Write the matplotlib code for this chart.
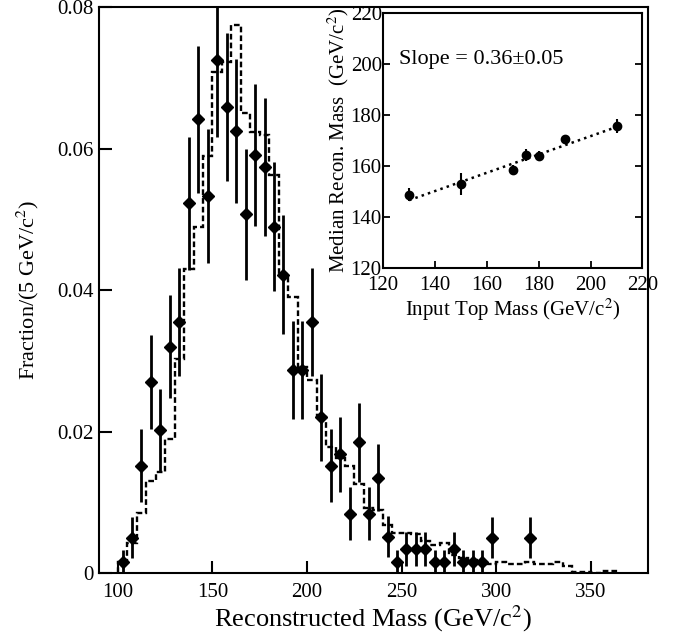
import matplotlib
matplotlib.use("Agg")
import matplotlib.pyplot as plt
import numpy as np

plt.rcParams['font.family'] = ['Liberation Serif', 'DejaVu Serif']
plt.rcParams['mathtext.fontset'] = 'stix'

# data points (bin centres, fraction per 5 GeV, errors)
mass = [102.5, 107.5, 112.5, 117.5, 122.5, 127.5, 132.5, 137.5, 142.5, 147.5,
        152.5, 157.5, 162.5, 167.5, 172.5, 177.5, 182.5, 187.5, 192.5, 197.5,
        202.5, 207.5, 212.5, 217.5, 222.5, 227.5, 232.5, 237.5, 242.5, 247.5,
        252.5, 257.5, 262.5, 267.5, 272.5, 277.5, 282.5, 287.5, 292.5, 297.5,
        317.5]
frac = [0.0016, 0.0050, 0.0152, 0.0270, 0.0202, 0.0320, 0.0355, 0.0523, 0.0642, 0.0533,
        0.0726, 0.0659, 0.0625, 0.0507, 0.0591, 0.0574, 0.0490, 0.0422, 0.0287, 0.0287,
        0.0355, 0.0220, 0.0152, 0.0168, 0.0084, 0.0185, 0.0084, 0.0135, 0.0051, 0.0016,
        0.0034, 0.0034, 0.0034, 0.0016, 0.0016, 0.0034, 0.0016, 0.0016, 0.0016, 0.0050,
        0.0050]
frac_err = [0.0016, 0.0029, 0.0051, 0.0067, 0.0058, 0.0073, 0.0077, 0.0094, 0.0104, 0.0095,
            0.0110, 0.0105, 0.0102, 0.0092, 0.0100, 0.0098, 0.0091, 0.0084, 0.0069, 0.0069,
            0.0077, 0.0061, 0.0051, 0.0053, 0.0038, 0.0056, 0.0038, 0.0048, 0.0029, 0.0016,
            0.0024, 0.0024, 0.0024, 0.0016, 0.0016, 0.0024, 0.0016, 0.0016, 0.0016, 0.0029,
            0.0029]

# Monte Carlo template (dashed histogram), 5 GeV bins starting at 100
hist_start = 100
hist_width = 5
hist_vals = [0.0015, 0.0043, 0.0085, 0.0130, 0.0143, 0.0190, 0.0302, 0.0430, 0.0490, 0.0590,
             0.0708, 0.0723, 0.0775, 0.0651, 0.0623, 0.0620, 0.0563, 0.0423, 0.0390, 0.0292,
             0.0273, 0.0221, 0.0178, 0.0162, 0.0151, 0.0126, 0.0092, 0.0089, 0.0068, 0.0057,
             0.0056, 0.0055, 0.0045, 0.0040, 0.0043, 0.0025, 0.0021, 0.0018, 0.0016, 0.0013,
             0.0015, 0.0013, 0.0012, 0.0015, 0.0012, 0.0013, 0.0015, 0.0010, 0.0002, 0.0002,
             0.0000, 0.0003, 0.0003]

# inset: median reconstructed mass vs input top mass
top_mass = [130, 150, 170, 175, 180, 190, 210]
median_mass = [148.6, 152.8, 158.4, 164.3, 164.0, 170.5, 175.7]
median_err = [2.6, 4.3, 1.8, 2.3, 1.8, 1.8, 2.9]
fit_x = [130, 210]
fit_y = [146.5, 175.3]

fig = plt.figure(figsize=(6.77, 6.37), dpi=100)
ax = fig.add_axes([0.146, 0.1005, 0.811, 0.888])

edges = hist_start + hist_width * np.arange(len(hist_vals) + 1)
ax.stairs(hist_vals, edges, color='black', linewidth=1.7, linestyle=(0, (2.4, 1.3)))
ax.errorbar(mass, frac, yerr=frac_err, fmt='D', color='black', markersize=6.5,
            elinewidth=2.0, capsize=0)

ax.set_xlim(90, 380)
ax.set_ylim(0, 0.08)
ax.set_xticks([100, 150, 200, 250, 300, 350])
ax.set_yticks([0, 0.02, 0.04, 0.06, 0.08])
ax.set_yticklabels(['0', '0.02', '0.04', '0.06', '0.08'])
ax.tick_params(direction='in', length=9, width=1.5, labelsize=15)
ax.tick_params(axis='x', pad=7)
for s in ax.spines.values():
    s.set_linewidth(1.5)
ax.set_xlabel(r'Reconstructed Mass (GeV/c$^{\mathrm{2}}$)', fontsize=19, labelpad=1)
ax.set_ylabel(r'Fraction/(5 GeV/c$^{\mathrm{2}}$)', fontsize=16, labelpad=12)

# inset
ins = fig.add_axes([0.566, 0.58, 0.383, 0.399])
ins.set_facecolor('white')
ins.plot(fit_x, fit_y, linestyle=':', color='black', linewidth=1.8)
ins.errorbar(top_mass, median_mass, yerr=median_err, fmt='o', color='black',
             markersize=6, elinewidth=1.5, capsize=0)
ins.set_xlim(120, 220)
ins.set_ylim(120, 220)
ins.set_xticks([120, 140, 160, 180, 200, 220])
ins.set_yticks([120, 140, 160, 180, 200, 220])
ins.tick_params(direction='in', length=5, width=1.3, labelsize=15, right=True)
ins.tick_params(axis='y', pad=1)
ins.tick_params(axis='x', pad=6)
for s in ins.spines.values():
    s.set_linewidth(1.5)
ins.text(126, 202, 'Slope = 0.36\u00b10.05', fontsize=16, va='center')
ins.set_xlabel(r'Input Top Mass (GeV/c$^{\mathrm{2}}$)', fontsize=15, labelpad=1)
ins.set_ylabel(r'Median Recon. Mass  (GeV/c$^{\mathrm{2}}$)', fontsize=15, labelpad=0)

fig.savefig('out.png', dpi=100)
